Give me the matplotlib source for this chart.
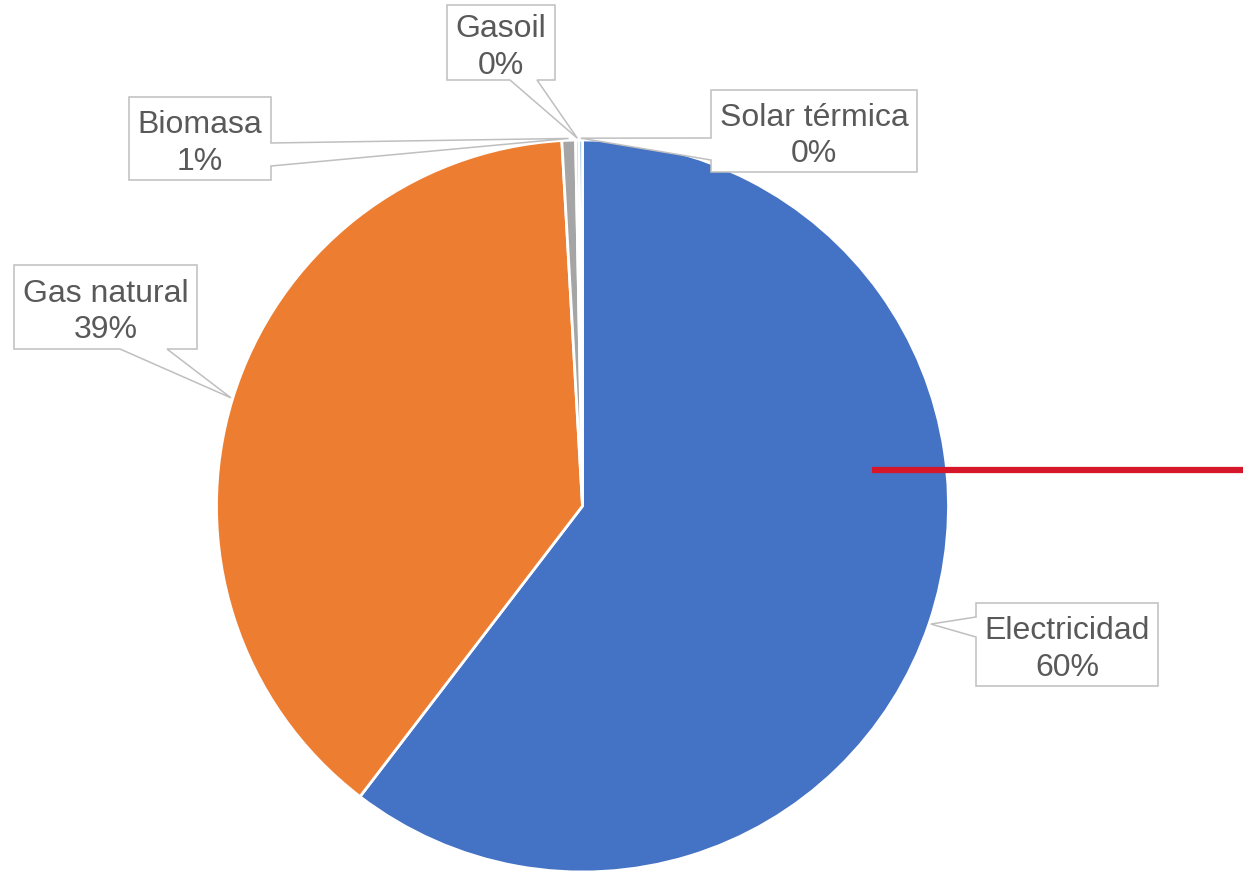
import numpy as np
import matplotlib.pyplot as plt
from matplotlib.patches import Polygon

# data
categories = ['Electricidad', 'Gas natural', 'Biomasa', 'Gasoil', 'Solar térmica']
values = [60.4, 38.7, 0.6, 0.15, 0.15]
colors = ['#4472C4', '#ED7D31', '#A5A5A5', '#FFC000', '#5B9BD5']

# label boxes in pixel coords (left, top, right, bottom), notch side and notch span
boxes = {
    'Electricidad': ((976, 603, 1158, 686), 'left', (617, 637)),
    'Gas natural': ((14, 265, 197, 349), 'bottom', (120, 167)),
    'Biomasa': ((129, 97, 271, 180), 'right', (143, 166)),
    'Gasoil': ((447, 5, 555, 80), 'bottom', (510, 537)),
    'Solar térmica': ((711, 90, 917, 172), 'left', (138, 160)),
}

W, H = 1243, 873
cx, cy, R = 582.5, 506, 366

plt.rcParams['font.family'] = ['Liberation Sans', 'DejaVu Sans']
fig = plt.figure(figsize=(W / 100, H / 100), dpi=100)
ax = fig.add_axes([0, 0, 1, 1])

ax.pie(values, colors=colors, startangle=90, counterclock=False,
       center=(cx, H - cy), radius=R, frame=True,
       wedgeprops=dict(edgecolor='white', linewidth=2.0))
ax.set_xlim(0, W)
ax.set_ylim(0, H)
ax.set_aspect('equal')
ax.axis('off')

total = sum(values)
cum = np.cumsum([0] + values[:-1])
for cat, v, c0 in zip(categories, values, cum):
    mid = (c0 + v / 2) / total * 2 * np.pi   # clockwise from 12 o'clock
    tip = (cx + R * 1.005 * np.sin(mid), cy - R * 1.005 * np.cos(mid))
    (x0, y0, x1, y1), side, (a, b) = boxes[cat]
    if side == 'bottom':
        pts = [(x0, y0), (x1, y0), (x1, y1), (b, y1), tip, (a, y1), (x0, y1)]
    elif side == 'right':
        pts = [(x0, y0), (x1, y0), (x1, a), tip, (x1, b), (x1, y1), (x0, y1)]
    else:
        pts = [(x0, y0), (x1, y0), (x1, y1), (x0, y1), (x0, b), tip, (x0, a)]
    pts = [(px, H - py) for px, py in pts]
    ax.add_patch(Polygon(pts, closed=True, facecolor='white', edgecolor='#BFBFBF',
                         linewidth=1.1, zorder=5))
    pct = '{:.0f}%'.format(round(v / total * 100))
    ax.text((x0 + x1) / 2, H - (y0 + y1) / 2 - 5, cat + '\n' + pct, ha='center', va='center',
            fontsize=23, color='#595959', linespacing=1.28, zorder=6)

# red marker line
ax.plot([872, W], [H - 470, H - 470], color='#D6172A', linewidth=4.5,
        solid_capstyle='butt', zorder=7)

fig.savefig('out.png', dpi=100)
